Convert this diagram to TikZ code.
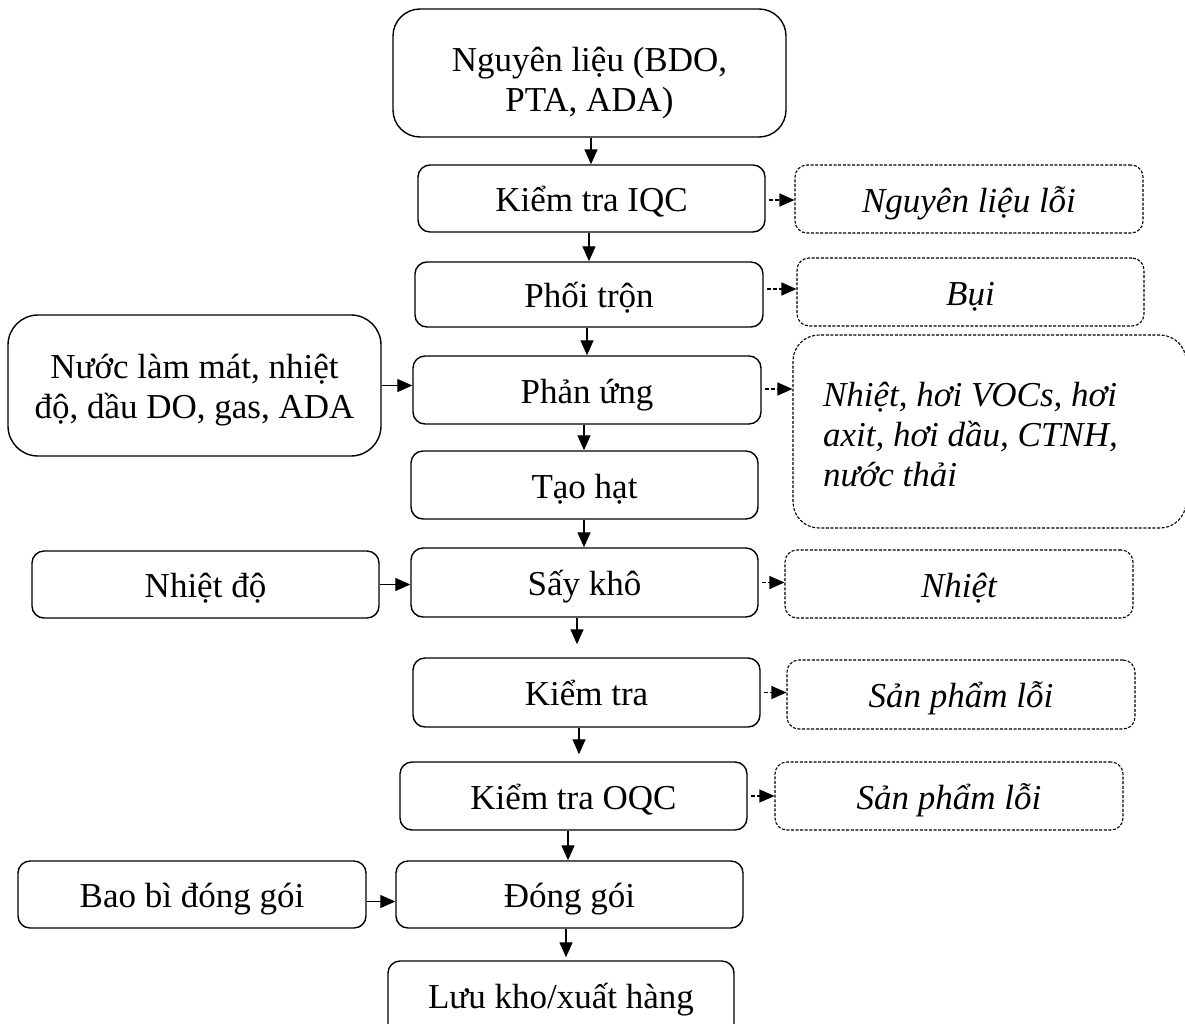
\documentclass[tikz,border=0pt]{standalone}
\usepackage{fontspec}
\setmainfont{Liberation Serif}
\usetikzlibrary{arrows.meta}

% fixed top/bottom of multi-line text blocks
\newcommand{\topstrut}[1]{\rule{0pt}{#1}}
\newcommand{\botstrut}[1]{\rule[-#1]{0pt}{0pt}}

\begin{document}
\begin{tikzpicture}[x=1pt,y=-1pt,
  font=\fontsize{35}{40}\selectfont,
  box/.style={draw, line width=1.4pt, rounded corners=12pt, inner sep=0pt, align=center},
  waste/.style={draw, line width=1.1pt, dash pattern=on 3pt off 1.6pt, rounded corners=12pt,
                inner sep=0pt, align=center, font=\fontsize{35}{40}\selectfont\itshape},
  oneline/.style={text height=30pt, text depth=4pt},
  flow/.style={line width=1.3pt, -{Triangle[length=15pt,width=13pt]}},
  loss/.style={line width=1.2pt, dash pattern=on 4pt off 2pt, shorten <=3pt,
               -{Triangle[length=15pt,width=13pt]}},
]
\useasboundingbox (0,0) rectangle (1185,1023);

% main process column
\node[box, rounded corners=27pt, minimum width=393pt, minimum height=128pt] (raw) at (589.5,73)
  {\topstrut{51pt}Nguyên liệu (BDO,\\PTA, ADA)\botstrut{14pt}};
\node[box, oneline, minimum width=347pt, minimum height=67pt] (iqc) at (591.5,198.5) {Kiểm tra IQC};
\node[box, oneline, minimum width=348pt, minimum height=65pt] (phoi) at (589,294.5) {Phối trộn};
\node[box, oneline, minimum width=348pt, minimum height=68pt] (phanung) at (587,390) {Phản ứng};
\node[box, oneline, minimum width=347pt, minimum height=68pt] (taohat) at (584.5,485) {Tạo hạt};
\node[box, oneline, minimum width=347pt, minimum height=69pt] (saykho) at (584.5,582.5) {Sấy khô};
\node[box, oneline, minimum width=347pt, minimum height=69pt] (kiemtra) at (586.5,692.5) {Kiểm tra};
\node[box, oneline, minimum width=347pt, minimum height=68pt] (oqc) at (573.5,796) {Kiểm tra OQC};
\node[box, oneline, minimum width=347pt, minimum height=67pt] (donggoi) at (569.5,894.5) {Đóng gói};
% runs past the lower edge of the page
\node[box, oneline, text depth=14pt, minimum width=346pt, minimum height=79pt] (luukho) at (561,1000.5)
  {Lưu kho/xuất hàng};

% inputs
\node[box, rounded corners=30pt, minimum width=373pt, minimum height=141pt] (nuoc) at (194.5,385.5)
  {\topstrut{40pt}Nước làm mát, nhiệt\\độ, dầu DO, gas, ADA\botstrut{14pt}};
\node[box, oneline, minimum width=347pt, minimum height=67pt] (nhietdo) at (205.5,584.5) {Nhiệt độ};
\node[box, oneline, minimum width=348pt, minimum height=67pt] (baobi) at (192,894.5) {Bao bì đóng gói};

% wastes and emissions
\node[waste, oneline, minimum width=348pt, minimum height=68pt] (nlloi) at (969,199) {Nguyên liệu lỗi};
\node[waste, oneline, minimum width=347pt, minimum height=68pt] (bui) at (970.5,292) {Bụi};
\node[waste, rounded corners=26pt, minimum width=393pt, minimum height=193pt,
      text width=333pt, align=flush left] (khi) at (989.5,431.5)
  {\topstrut{44pt}Nhiệt, hơi VOCs, hơi\\axit, hơi dầu, CTNH,\\nước thải\botstrut{14pt}};
\node[waste, oneline, minimum width=348pt, minimum height=68pt] (nhiet) at (959,584) {Nhiệt};
\node[waste, oneline, minimum width=348pt, minimum height=69pt] (sp1) at (961,694.5) {Sản phẩm lỗi};
\node[waste, oneline, minimum width=348pt, minimum height=68pt] (sp2) at (949,796) {Sản phẩm lỗi};

% vertical flow
\draw[flow] ([xshift=1.5pt]raw.south) -- ([xshift=1.5pt]raw.south |- iqc.north);
\draw[flow] ([xshift=-2.5pt]iqc.south) -- ([xshift=-2.5pt]iqc.south |- phoi.north);
\draw[flow] ([xshift=-2pt]phoi.south) -- ([xshift=-2pt]phoi.south |- phanung.north);
\draw[flow] ([xshift=-3pt]phanung.south) -- ([xshift=-3pt]phanung.south |- taohat.north);
\draw[flow] ([xshift=-0.5pt]taohat.south) -- ([xshift=-0.5pt]taohat.south |- saykho.north);
\draw[flow, shorten >=13pt] ([xshift=-7.5pt]saykho.south) -- ([xshift=-7.5pt]saykho.south |- kiemtra.north);
\draw[flow, shorten >=7pt] ([xshift=-7.5pt]kiemtra.south) -- ([xshift=-7.5pt]kiemtra.south |- oqc.north);
\draw[flow] ([xshift=-5.5pt]oqc.south) -- ([xshift=-5.5pt]oqc.south |- donggoi.north);
\draw[flow, shorten >=3pt] ([xshift=-3.5pt]donggoi.south) -- ([xshift=-3.5pt]donggoi.south |- luukho.north);

% inputs into the process
\draw[flow] (nuoc.east) -- (nuoc.east -| phanung.west);
\draw[flow] (nhietdo.east) -- (nhietdo.east -| saykho.west);
\draw[flow] ([yshift=-7pt]baobi.east) -- ([yshift=-7pt]baobi.east -| donggoi.west);

% outputs to wastes
\draw[loss] ([yshift=-1.5pt]iqc.east) -- ([yshift=-1.5pt]iqc.east -| nlloi.west);
\draw[loss] ([yshift=5.5pt]phoi.east) -- ([yshift=5.5pt]phoi.east -| bui.west);
\draw[loss] ([yshift=1pt]phanung.east) -- ([yshift=1pt]phanung.east -| khi.west);
\draw[loss] (saykho.east) -- (saykho.east -| nhiet.west);
\draw[loss] (kiemtra.east) -- (kiemtra.east -| sp1.west);
\draw[loss] (oqc.east) -- (oqc.east -| sp2.west);
\end{tikzpicture}
\end{document}
